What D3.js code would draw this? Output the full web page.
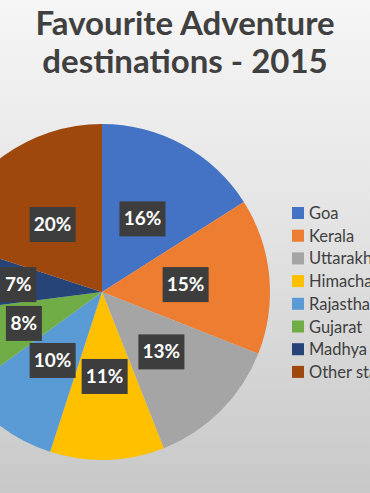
<!DOCTYPE html>
<html>
<head>
<meta charset="utf-8">
<script src="https://cdn.jsdelivr.net/npm/d3@7"></script>
<style>
  body { margin: 0; overflow: hidden; }
</style>
</head>
<body>
<script>
// Data
const categories = ['Goa', 'Kerala', 'Uttarakhand', 'Himachal Pradesh', 'Rajasthan', 'Gujarat', 'Madhya Pradesh', 'Other states'];
const shares = [16, 15, 13, 11, 10, 8, 7, 20];
const colors = ['#4472c4', '#ed7d31', '#a5a5a5', '#ffc000', '#5b9bd5', '#70ad47', '#264478', '#9e480e'];
const titleLines = ['Favourite Adventure', 'destinations - 2015'];

let width = 370,
    height = 493;

let svg = d3
  .select('body')
  .append('svg')
    .attr('width', width)
    .attr('height', height);

// background gradient
let grad = svg.append('defs')
  .append('linearGradient')
    .attr('id', 'bg')
    .attr('x1', 0).attr('y1', 0)
    .attr('x2', 0).attr('y2', 1);
grad.append('stop').attr('offset', '0%').attr('stop-color', '#f6f6f6');
grad.append('stop').attr('offset', '45%').attr('stop-color', '#e4e4e4');
grad.append('stop').attr('offset', '100%').attr('stop-color', '#c8c8c8');

svg.append('rect')
  .attr('width', width)
  .attr('height', height)
  .attr('fill', 'url(#bg)');

// Title
svg.append('g')
  .selectAll('text')
  .data(titleLines)
  .enter()
  .append('text')
    .attr('x', 185)
    .attr('y', (d, i) => 35 + i * 38)
    .attr('text-anchor', 'middle')
    .style('font-family', 'Lato, sans-serif')
    .style('font-weight', 'bold')
    .style('font-size', '33px')
    .style('fill', '#404040')
    .text(d => d);

// Pie
let cx = 102, cy = 292, radius = 168;

let pie = d3.pie().sort(null).value(d => d);
let arcs = pie(shares);

let arc = d3.arc().innerRadius(0).outerRadius(radius);

let g = svg.append('g')
  .attr('transform', `translate(${cx},${cy})`);

g.selectAll('path')
  .data(arcs)
  .enter()
  .append('path')
    .attr('d', arc)
    .attr('fill', (d, i) => colors[i]);

// Data labels
let lab = g.selectAll('.lab')
  .data(arcs)
  .enter()
  .append('g')
    .attr('class', 'lab')
    .attr('transform', d => `translate(${arc.centroid(d)})`);

lab.append('rect')
  .attr('x', d => d.data >= 10 ? -23 : -18)
  .attr('y', -17)
  .attr('width', d => d.data >= 10 ? 46 : 36)
  .attr('height', 35)
  .attr('fill', '#3d3d3d');

lab.append('text')
  .attr('text-anchor', 'middle')
  .attr('y', 7)
  .style('font-family', 'Lato, sans-serif')
  .style('font-weight', 'bold')
  .style('font-size', '19px')
  .style('fill', '#ffffff')
  .text(d => d.data + '%');

// Legend
let legend = svg.append('g')
  .attr('transform', 'translate(292,213)');

let item = legend.selectAll('g')
  .data(categories)
  .enter()
  .append('g')
    .attr('transform', (d, i) => `translate(0,${i * 22.7})`);

item.append('rect')
  .attr('x', 0)
  .attr('y', -6)
  .attr('width', 12)
  .attr('height', 12)
  .attr('fill', (d, i) => colors[i]);

item.append('text')
  .attr('x', 17)
  .attr('y', 6)
  .style('font-family', 'Lato, sans-serif')
  .style('font-size', '16.5px')
  .style('fill', '#404040')
  .text(d => d);
</script>
</body>
</html>
